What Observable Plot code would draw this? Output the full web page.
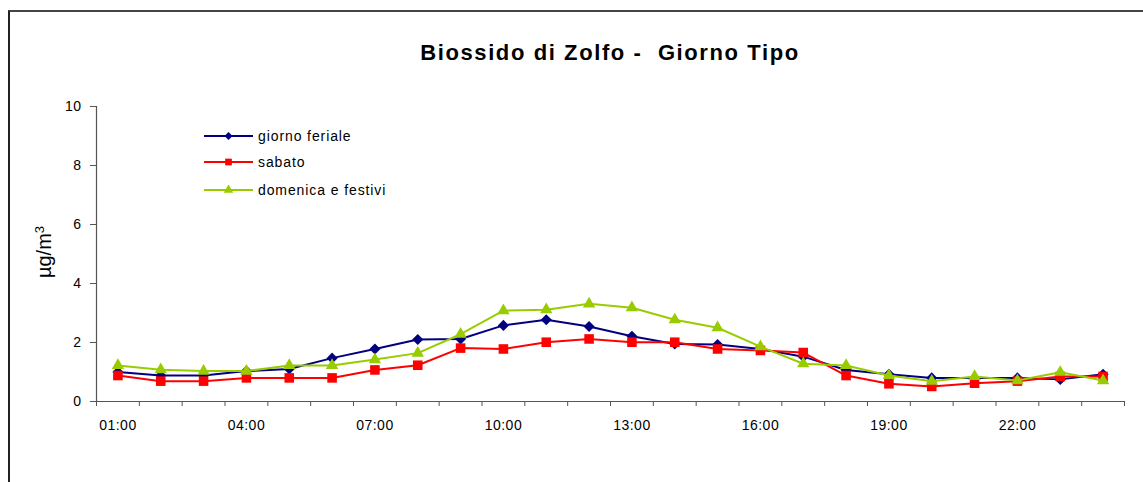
<!DOCTYPE html>
<html>
<head>
<meta charset="utf-8">
<script src="https://cdn.jsdelivr.net/npm/d3@7"></script>
<script src="https://cdn.jsdelivr.net/npm/@observablehq/plot@0.6"></script>
<style>
  html, body { margin: 0; padding: 0; background: #fff; }
  #wrap { position: relative; width: 1143px; height: 482px; overflow: hidden; font-family: "Liberation Sans", Arial, sans-serif; }
  #border { position: absolute; left: 8px; top: 10px; width: 1200px; height: 600px; border-left: 2px solid #222; border-top: 2px solid #444; }
  #chart { position: absolute; left: 0; top: 0; }
  #title { position: absolute; left: 0; width: 1220px; top: 40px; text-align: center; font-weight: bold; font-size: 22px; letter-spacing: 1.6px; color: #000; }
  #legend { position: absolute; left: 204px; top: 0; }
  .lg { position: absolute; left: 0; white-space: nowrap; font-size: 14px; letter-spacing: 0.9px; color: #000; }
  .lg svg { vertical-align: middle; }
</style>
</head>
<body>
<div id="wrap">
  <div id="border"></div>
  <div id="chart"></div>
  <div id="title">Biossido di Zolfo -&nbsp; Giorno Tipo</div>
  <div id="legend"></div>
</div>
<script>
const hours = ["01:00","02:00","03:00","04:00","05:00","06:00","07:00","08:00","09:00","10:00","11:00","12:00",
               "13:00","14:00","15:00","16:00","17:00","18:00","19:00","20:00","21:00","22:00","23:00","24:00"];
const tickLabels = ["01:00","04:00","07:00","10:00","13:00","16:00","19:00","22:00"];
const yTicks = [0, 2, 4, 6, 8, 10];
const seriesNames = ["giorno feriale", "sabato", "domenica e festivi"];
const feriale = [1.0, 0.88, 0.88, 1.03, 1.1, 1.47, 1.78, 2.1, 2.12, 2.58, 2.77, 2.54, 2.21, 1.95, 1.93, 1.78, 1.52, 1.07, 0.92, 0.8, 0.8, 0.8, 0.75, 0.92];
const sabato = [0.88, 0.69, 0.69, 0.8, 0.8, 0.8, 1.07, 1.23, 1.81, 1.78, 2.01, 2.12, 2.01, 2.01, 1.78, 1.73, 1.66, 0.88, 0.6, 0.51, 0.62, 0.69, 0.85, 0.85];
const domenica = [1.22, 1.08, 1.03, 1.03, 1.22, 1.22, 1.42, 1.64, 2.28, 3.08, 3.11, 3.31, 3.18, 2.77, 2.5, 1.86, 1.28, 1.22, 0.88, 0.69, 0.85, 0.71, 0.99, 0.71];

const colors = ["#000080", "#FF0000", "#99CC00"];
const symbols = ["diamond2", "square", "triangle"];
const radii = [5.0, 5.4, 4.6];
const values = [feriale, sabato, domenica];

const xDomain = [0.5, hours.length + 0.5];
const boundaries = d3.range(xDomain[0], xDomain[1] + 0.001, 1);
const labelPos = tickLabels.map(l => hours.indexOf(l) + 1);

const marks = [];
marks.push(Plot.ruleY([yTicks[0]], {stroke: "#555", strokeWidth: 1.2}));
marks.push(Plot.ruleX([xDomain[0]], {stroke: "#555", strokeWidth: 1.2}));
marks.push(Plot.axisY({ticks: yTicks, tickSize: 6, tickPadding: 9, label: null, stroke: "#555", fontSize: 14}));
marks.push(Plot.axisX({ticks: boundaries, tickSize: 5, tickFormat: () => "", label: null, stroke: "#555"}));
marks.push(Plot.axisX({ticks: labelPos, tickSize: 0, tickPadding: 19, tickFormat: d => hours[d - 1], label: null, fontSize: 14}));

values.forEach((vals, k) => {
  const rows = hours.map((h, i) => ({x: i + 1, v: vals[i]}));
  marks.push(Plot.line(rows, {x: "x", y: "v", stroke: colors[k], strokeWidth: 2}));
  marks.push(Plot.dot(rows, {x: "x", y: "v", symbol: symbols[k], r: radii[k], fill: colors[k], stroke: "none"}));
});

const chart = Plot.plot({
  width: 1143,
  height: 482,
  marginLeft: 96,
  marginRight: 19,
  marginTop: 106,
  marginBottom: 81,
  style: {fontFamily: "'Liberation Sans', Arial, sans-serif", fontSize: "14px", background: "transparent", letterSpacing: "0.5px"},
  x: {domain: xDomain, axis: null},
  y: {domain: [0, 10], axis: null},
  marks
});
document.getElementById("chart").appendChild(chart);

// y-axis title with superscript
const svg = d3.select(chart);
const yt = svg.append("text")
  .attr("transform", "translate(51,252) rotate(-90)")
  .attr("text-anchor", "middle")
  .attr("font-size", 20)
  .attr("fill", "#000")
  .style("letter-spacing", "0px");
yt.append("tspan").text("µg/m");
yt.append("tspan").attr("baseline-shift", "super").attr("font-size", 13).text("3");

// legend
const legend = d3.select("#legend");
const rowsY = [135, 161, 189];
seriesNames.forEach((name, k) => {
  const row = legend.append("div").attr("class", "lg").style("top", (rowsY[k] - 8) + "px");
  const s = row.append("svg").attr("width", 54).attr("height", 16);
  s.append("line").attr("x1", 0).attr("x2", 49).attr("y1", 8).attr("y2", 8).attr("stroke", colors[k]).attr("stroke-width", 2);
  const sym = [d3.symbolDiamond2, d3.symbolSquare, d3.symbolTriangle][k];
  const size = [40, 45, 40][k];
  s.append("path").attr("d", d3.symbol(sym, size)()).attr("transform", "translate(24.5,8)").attr("fill", colors[k]);
  row.append("span").text(name).style("vertical-align", "middle");
});
</script>
</body>
</html>
